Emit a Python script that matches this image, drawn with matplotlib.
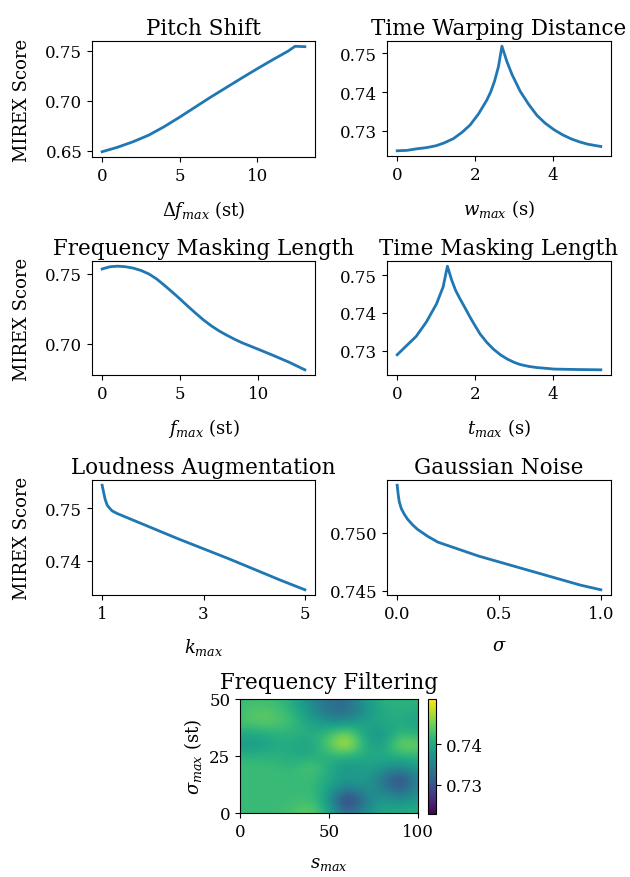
import numpy as np
import matplotlib
matplotlib.use("Agg")
import matplotlib.pyplot as plt

plt.rcParams['font.family'] = ['DejaVu Serif']
plt.rcParams['mathtext.fontset'] = 'dejavuserif'
plt.rcParams['axes.formatter.useoffset'] = False

# pitch shift
ps_x = [0, 1, 2, 3, 4, 5, 6, 7, 8, 9, 10, 11, 12, 12.45, 13.08]
ps_y = [0.6490, 0.6535, 0.6590, 0.6655, 0.6740, 0.6835, 0.6935, 0.7035,
        0.7130, 0.7225, 0.7318, 0.7408, 0.7495, 0.7543, 0.7539]

# time warping distance
tw_x = [0, 0.25, 0.5, 0.75, 1.0, 1.2, 1.44, 1.66, 1.87, 2.09, 2.3, 2.4,
        2.5, 2.6, 2.69, 2.82, 2.95, 3.16, 3.38, 3.59, 3.8, 4.03, 4.25, 4.46,
        4.68, 4.89, 5.23]
tw_y = [0.7249, 0.7250, 0.7254, 0.7257, 0.7262, 0.7269, 0.7280, 0.7296,
        0.7315, 0.7344, 0.7379, 0.7400, 0.7428, 0.7465, 0.7518, 0.7478,
        0.7445, 0.7402, 0.7368, 0.7340, 0.7320, 0.7303, 0.7290, 0.7280,
        0.7272, 0.7266, 0.7260]

# frequency masking length
fm_x = [0, 0.5, 1, 1.5, 2, 2.5, 3, 3.5, 4, 4.5, 5, 5.5, 6, 6.5, 7, 7.5, 8,
        8.5, 9, 10, 11, 12, 13]
fm_y = [0.7536, 0.7552, 0.7556, 0.7552, 0.7542, 0.7525, 0.7500, 0.7464,
        0.7418, 0.7370, 0.7320, 0.7268, 0.7218, 0.7170, 0.7128, 0.7091,
        0.7060, 0.7031, 0.7005, 0.6960, 0.6914, 0.6866, 0.6812]

# time masking length
tm_x = [0, 0.23, 0.49, 0.75, 1.01, 1.18, 1.29, 1.40, 1.5, 1.61, 1.75, 1.87,
        2.0, 2.13, 2.3, 2.47, 2.65, 2.82, 3.0, 3.16, 3.38, 3.59, 4.03, 4.5,
        5.23]
tm_y = [0.7289, 0.7312, 0.7338, 0.7376, 0.7424, 0.7469, 0.7524, 0.7487,
        0.7460, 0.7438, 0.7412, 0.7389, 0.7366, 0.7344, 0.7322, 0.7304,
        0.7289, 0.7278, 0.7269, 0.7263, 0.7258, 0.7255, 0.7251, 0.7250,
        0.7249]

# loudness augmentation
ld_x = [1.0, 1.03, 1.06, 1.1, 1.15, 1.2, 1.3, 1.5, 1.75, 2, 2.5, 3, 3.5,
        4, 4.5, 5]
ld_y = [0.7544, 0.7530, 0.7517, 0.7506, 0.7500, 0.7495, 0.7490, 0.7482,
        0.7472, 0.7462, 0.7442, 0.7423, 0.7404, 0.7384, 0.7364, 0.7345]

# gaussian noise
gn_x = [0, 0.005, 0.01, 0.02, 0.035, 0.05, 0.075, 0.1, 0.15, 0.2, 0.3,
        0.4, 0.5, 0.6, 0.7, 0.8, 0.9, 1.0]
gn_y = [0.7541, 0.7533, 0.7527, 0.7521, 0.7516, 0.7512, 0.7507, 0.7503,
        0.7497, 0.7492, 0.7486, 0.7480, 0.7475, 0.7470, 0.7465, 0.7460,
        0.7455, 0.7451]

# frequency filtering grid: rows sigma 0..50 step 5, cols s 0..100 step 10
ff_z = [
    [0.742, 0.742, 0.742, 0.743, 0.745, 0.740, 0.733, 0.737, 0.740, 0.740, 0.741],
    [0.742, 0.742, 0.742, 0.742, 0.743, 0.738, 0.725, 0.734, 0.739, 0.737, 0.739],
    [0.742, 0.742, 0.742, 0.742, 0.742, 0.739, 0.733, 0.737, 0.736, 0.731, 0.737],
    [0.742, 0.742, 0.742, 0.742, 0.742, 0.740, 0.738, 0.739, 0.734, 0.728, 0.736],
    [0.742, 0.742, 0.742, 0.741, 0.744, 0.740, 0.737, 0.739, 0.738, 0.736, 0.739],
    [0.741, 0.741, 0.741, 0.740, 0.740, 0.741, 0.741, 0.740, 0.740, 0.741, 0.741],
    [0.738, 0.738, 0.740, 0.740, 0.739, 0.744, 0.750, 0.740, 0.738, 0.746, 0.745],
    [0.740, 0.740, 0.741, 0.741, 0.740, 0.742, 0.746, 0.739, 0.737, 0.742, 0.740],
    [0.743, 0.744, 0.744, 0.742, 0.739, 0.737, 0.737, 0.739, 0.740, 0.740, 0.739],
    [0.742, 0.744, 0.743, 0.741, 0.737, 0.733, 0.732, 0.737, 0.740, 0.741, 0.740],
    [0.742, 0.742, 0.742, 0.740, 0.736, 0.733, 0.733, 0.738, 0.741, 0.741, 0.741],
]

W, H = 630, 878
fig = plt.figure(figsize=(W / 100, H / 100), dpi=100)

def box(x0, x1, ytop, ybot):
    return [x0 / W, 1 - ybot / H, (x1 - x0) / W, (ybot - ytop) / H]

TS = 15.5
LS = 13
plt.rcParams['xtick.labelsize'] = 12
plt.rcParams['ytick.labelsize'] = 12

panels = [
    (box(92, 315, 42, 158), ps_x, ps_y, 'Pitch Shift', r'$\Delta f_{max}$ (st)',
     [0, 5, 10], [0.65, 0.70, 0.75], True),
    (box(387, 611, 42, 157), tw_x, tw_y, 'Time Warping Distance', r'$w_{max}$ (s)',
     [0, 2, 4], [0.73, 0.74, 0.75], False),
    (box(92, 315, 262, 376), fm_x, fm_y, 'Frequency Masking Length', r'$f_{max}$ (st)',
     [0, 5, 10], [0.70, 0.75], True),
    (box(387, 611, 262, 376), tm_x, tm_y, 'Time Masking Length', r'$t_{max}$ (s)',
     [0, 2, 4], [0.73, 0.74, 0.75], False),
    (box(92, 315, 481, 596), ld_x, ld_y, 'Loudness Augmentation', r'$k_{max}$',
     [1, 3, 5], [0.74, 0.75], True),
    (box(387, 611, 481, 596), gn_x, gn_y, 'Gaussian Noise', r'$\sigma$',
     [0.0, 0.5, 1.0], [0.745, 0.750], False),
]

for pos, x, y, title, xl, xt, yt, left in panels:
    ax = fig.add_axes(pos)
    ax.plot(x, y, color='#1f77b4', lw=2.0)
    ax.set_title(title, fontsize=TS, pad=5)
    ax.set_xlabel(xl, fontsize=LS, labelpad=10)
    ax.set_xticks(xt)
    ax.set_yticks(yt)
    if title == 'Gaussian Noise':
        ax.set_xticklabels(['0.0', '0.5', '1.0'])
    if left:
        ax.set_ylabel('MIREX Score', fontsize=LS, labelpad=10)

ax = fig.add_axes(box(240, 418, 700, 814))
im = ax.imshow(np.array(ff_z), origin='lower', aspect='auto', cmap='viridis',
               interpolation='bicubic', extent=(-5, 105, -2.5, 52.5),
               vmin=0.7228, vmax=0.7511)
ax.set_xlim(0, 100)
ax.set_ylim(0, 50)
ax.set_xticks([0, 50, 100])
ax.set_yticks([0, 25, 50])
ax.set_title('Frequency Filtering', fontsize=TS, pad=8)
ax.set_xlabel(r'$s_{max}$', fontsize=LS, labelpad=10)
ax.set_ylabel(r'$\sigma_{max}$ (st)', fontsize=LS)
cax = fig.add_axes(box(428, 436, 700, 815))
cb = fig.colorbar(im, cax=cax, ticks=[0.73, 0.74])
cb.ax.set_yticklabels(['0.73', '0.74'])

fig.savefig('out.png', dpi=100)
